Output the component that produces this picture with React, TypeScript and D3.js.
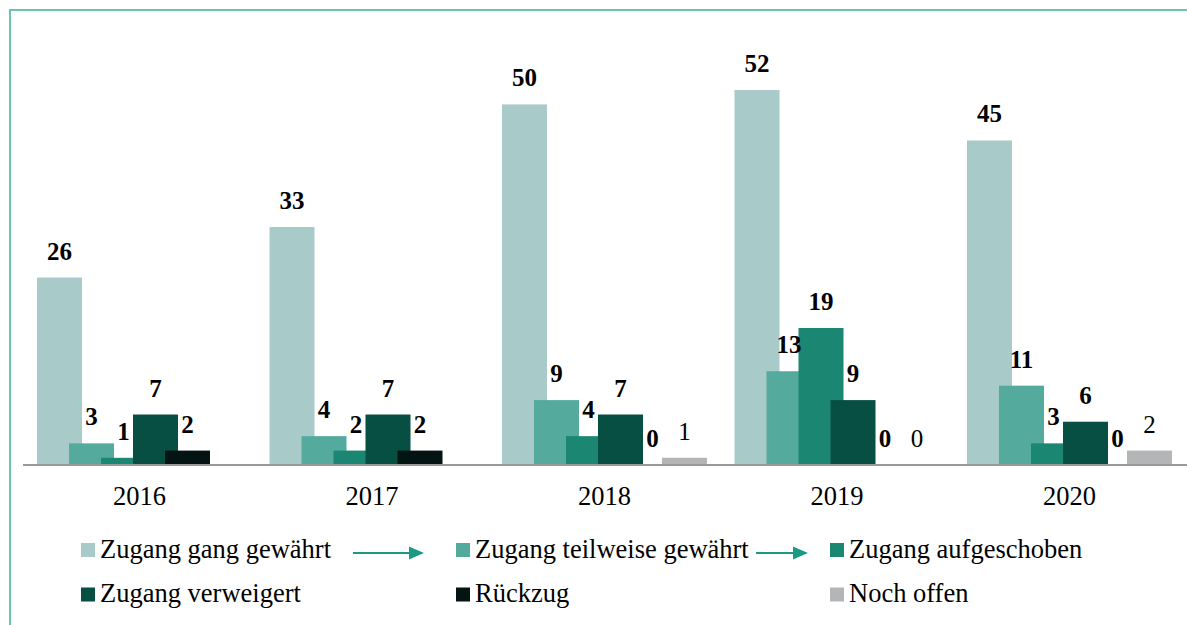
import React from "react";
import * as d3 from "d3";

const years = ["2016", "2017", "2018", "2019", "2020"];

const seriesNames = [
  "Zugang gang gewährt",
  "Zugang teilweise gewährt",
  "Zugang aufgeschoben",
  "Zugang verweigert",
  "Rückzug",
  "Noch offen",
];

const seriesColors = ["#a8cbc9", "#55aa9e", "#1b8672", "#084f43", "#041413", "#b3b5b6"];

const gewaehrt = [26, 33, 50, 52, 45];
const teilweise = [3, 4, 9, 13, 11];
const aufgeschoben = [1, 2, 4, 19, 3];
const verweigert = [7, 7, 7, 9, 6];
const rueckzug = [2, 2, 0, 0, 0];
const nochOffen = [0, 0, 1, 0, 2];

// labels shown per series/year (null = no label)
const labelGewaehrt = ["26", "33", "50", "52", "45"];
const labelTeilweise = ["3", "4", "9", "13", "11"];
const labelAufgeschoben = ["1", "2", "4", "19", "3"];
const labelVerweigert = ["7", "7", "7", "9", "6"];
const labelRueckzug = ["2", "2", "0", "0", "0"];
const labelOffen = [null, null, "1", "0", "2"];

const W = 1187;
const H = 625;
const txt = { fontFamily: "Liberation Serif" };

const App = () => {
  const series = [gewaehrt, teilweise, aufgeschoben, verweigert, rueckzug, nochOffen];
  const labels = [labelGewaehrt, labelTeilweise, labelAufgeschoben, labelVerweigert, labelRueckzug, labelOffen];

  const x = d3.scaleBand<string>().domain(years).range([23.25, 1185.75]).paddingInner(0).paddingOuter(0);
  const y = d3.scaleLinear().domain([0, 52]).range([465, 90]);

  const barW = 45;
  const stride = 32;
  const groupW = stride * 5 + barW;
  const inner = d3
    .scaleLinear()
    .domain([0, 1])
    .range([(x.bandwidth() - groupW) / 2, (x.bandwidth() - groupW) / 2 + stride]);

  const legendRows = [
    [0, 2],
    [3, 5],
  ];
  const legendX = [81, 456, 830];
  const legendY = [550, 594.5];

  return (
    <svg width={W} height={H} style={{ position: "absolute", left: 0, top: 0, background: "#fff" }}>
      {/* frame */}
      <line x1={9} x2={W} y1={10} y2={10} stroke="#6cc3b4" strokeWidth={2} />
      <line x1={10} x2={10} y1={9} y2={H} stroke="#6cc3b4" strokeWidth={2} />

      {series.map((vals, si) =>
        vals.map((v, yi) => {
          const bx = (x(years[yi]) ?? 0) + inner(si);
          return (
            <rect
              key={`b${si}-${yi}`}
              x={bx}
              y={y(v)}
              width={barW}
              height={y(0) - y(v)}
              fill={seriesColors[si]}
            />
          );
        })
      )}

      <line x1={23} x2={W} y1={y(0)} y2={y(0)} stroke="#999" strokeWidth={2} />

      {series.map((vals, si) =>
        vals.map((v, yi) => {
          const lab = labels[si][yi];
          if (lab == null) return null;
          const cx = (x(years[yi]) ?? 0) + inner(si) + barW / 2;
          return (
            <text
              key={`l${si}-${yi}`}
              x={cx}
              y={y(v) - 18}
              textAnchor="middle"
              fontSize={25}
              fontWeight={si === 5 ? "normal" : "bold"}
              fill="#000"
              style={txt}
            >
              {lab}
            </text>
          );
        })
      )}

      {years.map((yr) => (
        <text
          key={yr}
          x={(x(yr) ?? 0) + x.bandwidth() / 2}
          y={505}
          textAnchor="middle"
          fontSize={26.5}
          fill="#000"
          style={txt}
        >
          {yr}
        </text>
      ))}

      {/* legend */}
      {legendRows.map(([a, b], ri) =>
        d3.range(a, b + 1).map((si, ci) => (
          <g key={`lg${si}`} transform={`translate(${legendX[ci]},${legendY[ri]})`}>
            <rect x={0} y={-7} width={14} height={14} fill={seriesColors[si]} />
            <text x={19} y={7.5} fontSize={26.5} fill="#000" style={txt}>
              {seriesNames[si]}
            </text>
          </g>
        ))
      )}
      {[
        [353, 424],
        [756, 808],
      ].map(([x1, x2], i) => (
        <g key={`ar${i}`}>
          <line x1={x1} x2={x2 - 12} y1={553} y2={553} stroke="#1a9a85" strokeWidth={2} />
          <path d={`M${x2 - 15},546.5 L${x2},553 L${x2 - 15},559.5 Z`} fill="#1a9a85" />
        </g>
      ))}
    </svg>
  );
};

export default App;
